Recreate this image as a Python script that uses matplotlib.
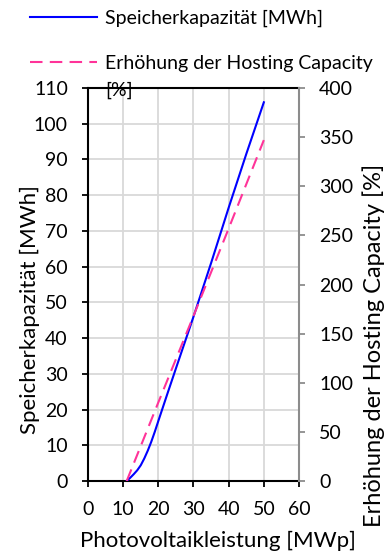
import numpy as np
import matplotlib.pyplot as plt
from matplotlib.lines import Line2D

plt.rcParams['font.family'] = ['Lato', 'DejaVu Sans']

# PV power [MWp] vs. storage capacity [MWh]
pv_storage = [11, 12, 13, 14, 15, 16, 17, 18, 19, 20, 22.5, 25, 30, 35, 40, 45, 50]
storage_mwh = [0, 0.9, 1.9, 3.0, 4.4, 6.3, 8.5, 11.0, 13.8, 16.8, 24.2, 31.5,
               46, 61, 76.5, 91.5, 106]

# PV power [MWp] vs. hosting capacity increase [%]
pv_hc = [11, 20, 30, 40, 50]
hc_increase = [0, 80, 168, 257, 347]

label_storage = "Speicherkapazität [MWh]"
label_hc = "Erhöhung der Hosting Capacity [%]"
label_x = "Photovoltaikleistung [MWp]"

BLUE = "#0000ff"
PINK = "#ff3399"
GRID = "#d9d9d9"
GREY = "#8c8c8c"
FS = 14

W, H = 385, 554
fig = plt.figure(figsize=(W / 100, H / 100), dpi=100)


def fx(px):
    return px / W


def fy(py):
    return 1 - py / H


ax = fig.add_axes([fx(88), fy(481), (299 - 88) / W, (481 - 88) / H])
ax2 = ax.twinx()

ax.plot(pv_storage, storage_mwh, color=BLUE, lw=1.5, zorder=3)
ax2.plot(pv_hc, hc_increase, color=PINK, lw=1.5, dashes=(6, 3.5), zorder=3)

ax.set_xlim(0, 60)
ax.set_ylim(0, 110)
ax2.set_ylim(0, 400)
ax.set_xticks(np.arange(0, 61, 10))
ax.set_yticks(np.arange(0, 111, 10))
ax2.set_yticks(np.arange(0, 401, 50))

ax.grid(True, color=GRID, lw=1.3)
ax.set_axisbelow(True)

for s in ax.spines.values():
    s.set_linewidth(1.5)
    s.set_color("black")
ax.spines["right"].set_visible(False)
for name, s in ax2.spines.items():
    s.set_visible(name == "right")
ax2.spines["right"].set_color(GREY)
ax2.spines["right"].set_linewidth(1.5)

ax.tick_params(axis="both", direction="out", length=4.5, width=1.3,
               color="black", labelsize=FS, pad=10)
ax2.tick_params(axis="y", direction="out", length=4.5, width=1.3,
                color=GREY, labelcolor="black", labelsize=FS, pad=10)

ax.set_xlabel(label_x, fontsize=16)
ax.xaxis.set_label_coords(0.618, -0.153)
ax.xaxis.label.set_va("center")

ax.set_ylabel(label_storage, fontsize=16)
ax.yaxis.set_label_coords(-0.275, 0.437)
ax.yaxis.label.set_va("center")

ax2.set_ylabel(label_hc, fontsize=17)
ax2.yaxis.set_label_coords(1.355, 0.345)
ax2.yaxis.label.set_va("center")

# legend above the plot area
fig.add_artist(Line2D([fx(30), fx(97)], [fy(17), fy(17)], color=BLUE, lw=1.5))
fig.text(fx(105), fy(18), label_storage, fontsize=FS, va="center")
fig.add_artist(Line2D([fx(30), fx(97)], [fy(62), fy(62)], color=PINK, lw=1.5,
                      dashes=(6, 3.5)))
fig.text(fx(105), fy(63), "Erhöhung der Hosting Capacity", fontsize=FS,
         va="center")
fig.text(fx(105), fy(90), "[%]", fontsize=FS, va="center")

fig.savefig("out.png", dpi=100)
